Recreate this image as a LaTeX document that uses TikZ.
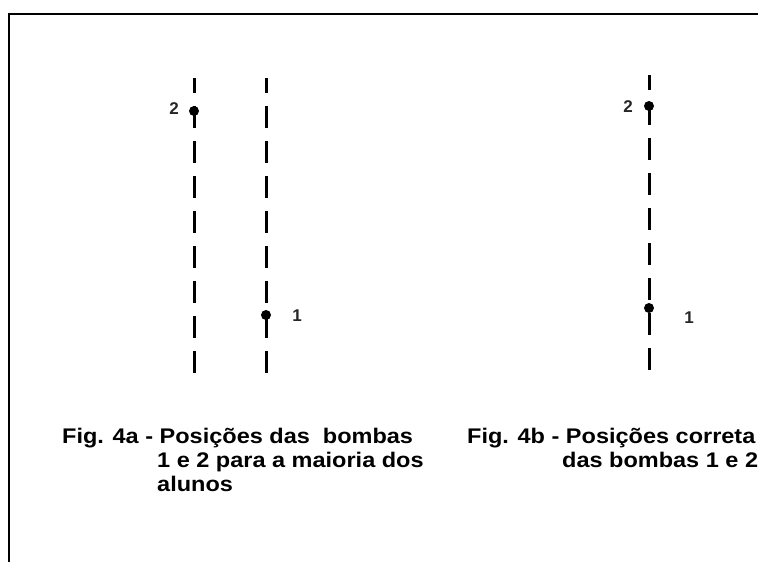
\documentclass[tikz,border=0pt]{standalone}
\usepackage{fontspec}
\setmainfont{Liberation Sans}
\begin{document}
\begin{tikzpicture}[x=1pt,y=-1pt,
  guide/.style={line width=3pt, dash pattern=on 22pt off 13pt, dash phase=7pt},
  bomb/.style={circle, fill=black, inner sep=0pt, minimum size=10pt},
  numlabel/.style={font=\fontsize{17}{17}\selectfont\bfseries, text=black!85, inner sep=0pt},
  caption/.style={font=\fontsize{23.5}{24}\selectfont\bfseries, anchor=base west, inner sep=0pt, yscale=0.9, transform shape},
  frame/.style={line width=2pt}]
\useasboundingbox (0,0) rectangle (758,562);
\clip (0,0) rectangle (758,562);
% frame
\coordinate (fA) at (9,562);
\coordinate (fB) at (9,14);
\coordinate (fC) at (760,14);
\draw[frame] (fA) -- (fB) -- (fC);
% guide lines
\coordinate (l1t) at (194,78);
\coordinate (l1b) at (194,382);
\coordinate (l2t) at (266,78);
\coordinate (l2b) at (266,382);
\coordinate (l3t) at (649,75);
\coordinate (l3b) at (649,382);
\draw[guide] (l1t) -- (l1b);
\draw[guide] (l2t) -- (l2b);
\draw[guide] (l3t) -- (l3b);
% bombs
\node[bomb] (a2) at (194,111) {};
\node[bomb] (a1) at (266,315) {};
\node[bomb] (b2) at (649,106) {};
\node[bomb] (b1) at (649,308) {};
\node[numlabel] (a2l) at (174,109) {2};
\node[numlabel] (a1l) at (297,316) {1};
\node[numlabel] (b2l) at (628,107) {2};
\node[numlabel] (b1l) at (689,318) {1};
% captions
\node[caption] (ca1) at (62,443) {Fig. 4a - Posições das\ \ bombas};
\node[caption] (ca2) at (157,467) {1 e 2 para a maioria dos};
\node[caption] (ca3) at (157,491) {alunos};
\node[caption] (cb1) at (467,443) {Fig. 4b - Posições correta};
\node[caption] (cb2) at (562,467) {das bombas 1 e 2};
\end{tikzpicture}
\end{document}
